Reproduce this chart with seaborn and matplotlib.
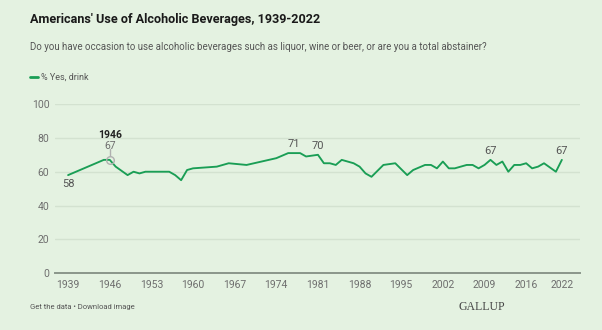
import matplotlib
matplotlib.use("Agg")
import matplotlib.pyplot as plt
import seaborn as sns
import pandas as pd

years = [1939, 1945, 1946, 1947, 1949, 1950, 1951, 1952, 1956, 1957, 1958, 1959, 1960,
         1964, 1966, 1969, 1974, 1976, 1977, 1978, 1979, 1981, 1982, 1983, 1984, 1985,
         1987, 1988, 1989, 1990, 1992, 1994, 1996, 1997, 1999, 2000, 2001, 2002, 2003,
         2004, 2006, 2007, 2008, 2009, 2010, 2011, 2012, 2013, 2014, 2015, 2016, 2017,
         2018, 2019, 2021, 2022]
pct_drink = [58, 67, 67, 63, 58, 60, 59, 60, 60, 58, 55, 61, 62,
             63, 65, 64, 68, 71, 71, 71, 69, 70, 65, 65, 64, 67,
             65, 63, 59, 57, 64, 65, 58, 61, 64, 64, 62, 66, 62,
             62, 64, 64, 62, 64, 67, 64, 66, 60, 64, 64, 65, 62,
             63, 65, 60, 67]
x_ticks = [1939, 1946, 1953, 1960, 1967, 1974, 1981, 1988, 1995, 2002, 2009, 2016, 2022]
y_ticks = [0, 20, 40, 60, 80, 100]
labels = [(1939, 58, "58", "below"), (1977, 71, "71", "above"), (1981, 70, "70", "above"),
          (2010, 67, "67", "above"), (2022, 67, "67", "above")]
highlight_year, highlight_val = 1946, 67

BG = "#e4f2e1"
GREEN = "#1a9e55"
GRID = "#d3e2d0"
TXT = "#6e6e6e"

sns.set_style("white")
plt.rcParams["font.family"] = ["Roboto", "DejaVu Sans"]

df = pd.DataFrame({"year": years, "pct": pct_drink})

fig = plt.figure(figsize=(6.02, 3.30), dpi=100, facecolor=BG)
ax = fig.add_axes([55/602, (330-273.3)/330, (580-55)/602, (273.3-104)/330])
ax.set_facecolor(BG)

sns.lineplot(data=df, x="year", y="pct", ax=ax, color=GREEN, linewidth=1.35)

ax.set_xlim(1936.8, 2025.05)
ax.set_ylim(0, 100)
ax.set_xticks(x_ticks)
ax.set_yticks(y_ticks)
ax.set_xticklabels([str(t) for t in x_ticks])
ax.tick_params(axis="both", length=0, labelsize=7.5, labelcolor=TXT)
ax.tick_params(axis="x", pad=5)
ax.tick_params(axis="y", pad=4)
for s in ["top", "right", "left"]:
    ax.spines[s].set_visible(False)
ax.spines["bottom"].set_color("#8a968a")
ax.spines["bottom"].set_linewidth(1.4)
ax.yaxis.grid(True, color=GRID, linewidth=1.0)
ax.xaxis.grid(False)
ax.set_xlabel("")
ax.set_ylabel("")
ax.set_axisbelow(True)

# hover highlight
ax.plot([highlight_year], [highlight_val], marker="o", markersize=5.5, markerfacecolor="none",
        markeredgecolor="#b0b0b0", markeredgewidth=1.0, clip_on=False)
ax.plot([highlight_year, highlight_year], [69.0, 73.2], color="#b0b0b0", linewidth=1.0, clip_on=False)
ax.text(highlight_year, 75.4, str(highlight_val), ha="center", va="center", fontsize=7.5, color=TXT)
ax.text(highlight_year, 81.7, str(highlight_year), ha="center", va="center", fontsize=7.5,
        color="#222222", fontweight="bold")

for yr, v, txt, pos in labels:
    if pos == "below":
        ax.text(yr, v - 5.3, txt, ha="center", va="center", fontsize=8, color="#555555")
    else:
        ax.text(yr, v + 5.3, txt, ha="center", va="center", fontsize=8, color="#555555")

fig.text(30/602, 1 - 20/330, "Americans' Use of Alcoholic Beverages, 1939-2022", ha="left", va="center",
         fontsize=9.1, fontweight="bold", color="#1a1a1a")
fig.text(30/602, 1 - 47/330,
         "Do you have occasion to use alcoholic beverages such as liquor, wine or beer, or are you a total abstainer?",
         ha="left", va="center", fontsize=7.0, color="#555555")
fig.lines.append(plt.Line2D([30/602, 38/602], [1 - 77/330, 1 - 77/330], transform=fig.transFigure,
                            color=GREEN, linewidth=2))
fig.text(41/602, 1 - 77/330, "% Yes, drink", ha="left", va="center", fontsize=6.5, color="#555555")
fig.text(30/602, 1 - 307/330, "Get the data \u2022 Download image", ha="left", va="center",
         fontsize=5.5, color="#555555")
fig.text(505/602, 1 - 307/330, "GALLUP", ha="right", va="center", fontsize=8.5,
         family=["Liberation Serif", "DejaVu Serif"], color="#444444")

fig.savefig("out.png", dpi=100, facecolor=BG)
